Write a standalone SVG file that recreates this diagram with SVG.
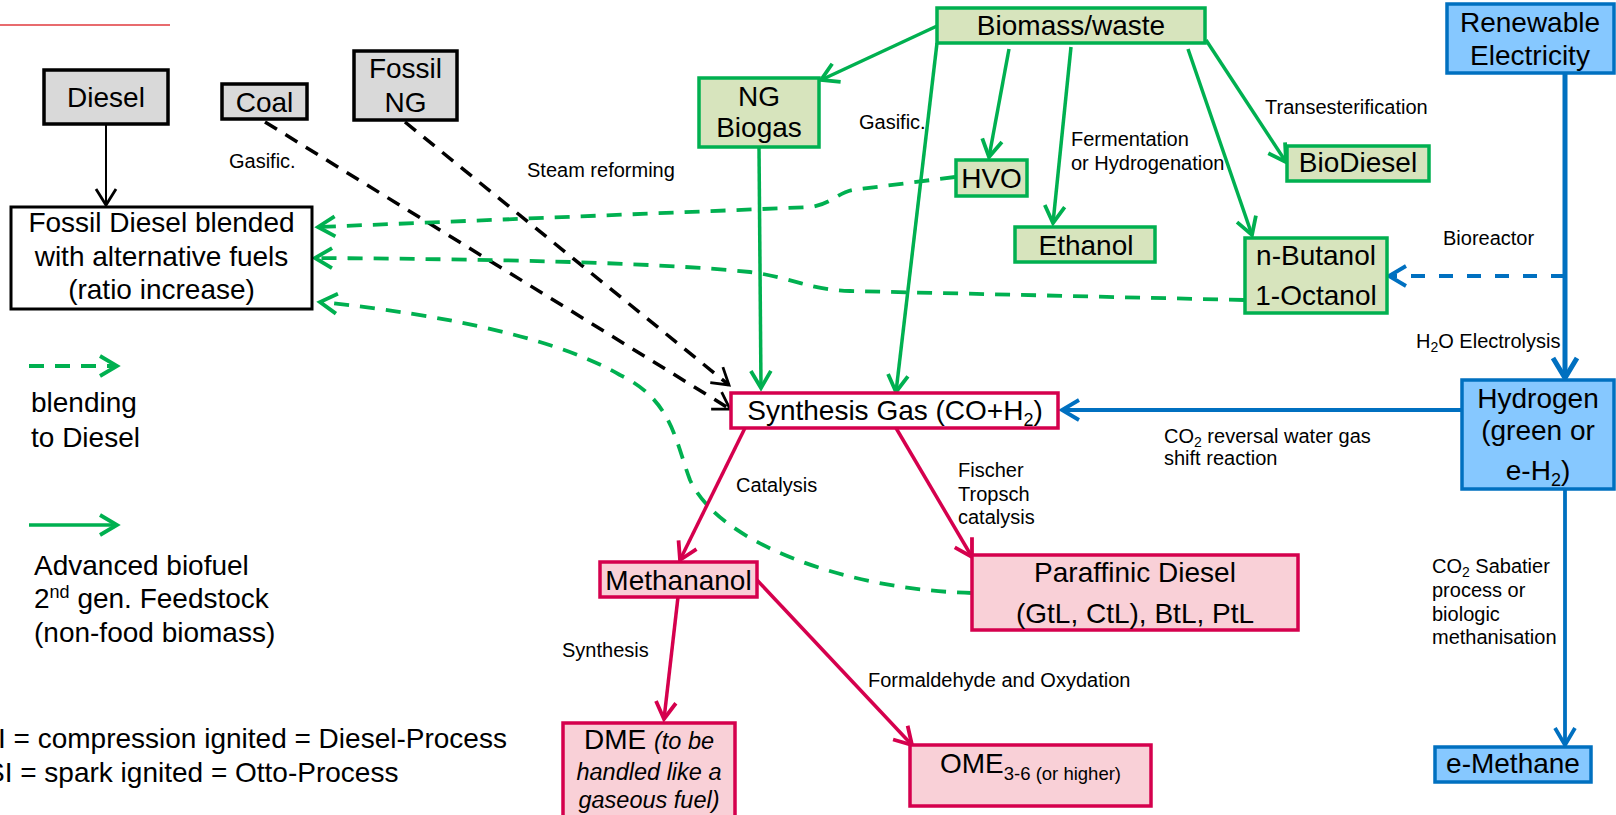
<svg xmlns="http://www.w3.org/2000/svg" width="1616" height="815" viewBox="0 0 1616 815">
<style>
text{font-family:"Liberation Sans",Arial,sans-serif;fill:#000}
.big{font-size:28px}
.lbl{font-size:20px}
.c{text-anchor:middle}
.grey{fill:#d9d9d9;stroke:#000;stroke-width:3.5}
.white{fill:#fff;stroke:#000;stroke-width:3}
.gbox{fill:#d7e4bd;stroke:#00b050;stroke-width:3.5}
.rbox{fill:#f9d0d7;stroke:#d5004d;stroke-width:3.5}
.rwbox{fill:#fff;stroke:#d5004d;stroke-width:3.5}
.bbox{fill:#86c8ff;stroke:#0070c0;stroke-width:3.5}
.k{stroke:#000;stroke-width:2;fill:none}
.kd{stroke:#000;stroke-width:3.5;fill:none;stroke-dasharray:14 10}
.g{stroke:#00b050;stroke-width:3.5;fill:none}
.gd{stroke:#00b050;stroke-width:3.8;fill:none;stroke-dasharray:15 11}
.r{stroke:#d5004d;stroke-width:3.5;fill:none}
.b{stroke:#0070c0;stroke-width:3.8;fill:none}
.bt{stroke:#0070c0;stroke-width:5;fill:none}
.bd{stroke:#0070c0;stroke-width:3.8;fill:none;stroke-dasharray:14 14}
</style>
<defs>
<marker id="ak" markerUnits="userSpaceOnUse" markerWidth="26" markerHeight="26" viewBox="-22 -13 26 26" refX="0" refY="0" orient="auto"><path d="M-16,-10 L0,0 L-16,10" fill="none" stroke="#000" stroke-width="2.8"/></marker>
<marker id="ag" markerUnits="userSpaceOnUse" markerWidth="26" markerHeight="26" viewBox="-22 -13 26 26" refX="0" refY="0" orient="auto"><path d="M-17,-10 L0,0 L-17,10" fill="none" stroke="#00b050" stroke-width="3.8"/></marker>
<marker id="ar" markerUnits="userSpaceOnUse" markerWidth="26" markerHeight="26" viewBox="-22 -13 26 26" refX="0" refY="0" orient="auto"><path d="M-17,-10 L0,0 L-17,10" fill="none" stroke="#d5004d" stroke-width="3.8"/></marker>
<marker id="ab" markerUnits="userSpaceOnUse" markerWidth="26" markerHeight="26" viewBox="-22 -13 26 26" refX="0" refY="0" orient="auto"><path d="M-17,-10 L0,0 L-17,10" fill="none" stroke="#0070c0" stroke-width="3.8"/></marker>
<marker id="abb" markerUnits="userSpaceOnUse" markerWidth="30" markerHeight="30" viewBox="-26 -15 30 30" refX="0" refY="0" orient="auto"><path d="M-20,-12 L0,0 L-20,12" fill="none" stroke="#0070c0" stroke-width="5"/></marker>
</defs>

<line x1="0" y1="25" x2="170" y2="25" stroke="#e03a3e" stroke-width="1.5"/>

<g id="connectors">
  <line class="k" x1="106" y1="124" x2="106" y2="205" marker-end="url(#ak)"/>
  <line class="kd" x1="265" y1="122" x2="730" y2="409" marker-end="url(#ak)"/>
  <line class="kd" x1="405" y1="122" x2="729" y2="385" marker-end="url(#ak)"/>

  <line class="g" x1="937" y1="26" x2="821" y2="80" marker-end="url(#ag)"/>
  <line class="g" x1="1009" y1="49" x2="989" y2="157" marker-end="url(#ag)"/>
  <line class="g" x1="1071" y1="47" x2="1053" y2="223" marker-end="url(#ag)"/>
  <line class="g" x1="1188" y1="49" x2="1252" y2="235" marker-end="url(#ag)"/>
  <line class="g" x1="1206" y1="40" x2="1286" y2="162" marker-end="url(#ag)"/>
  <line class="g" x1="759" y1="147" x2="761" y2="388" marker-end="url(#ag)"/>
  <line class="g" x1="937" y1="43" x2="896" y2="392" marker-end="url(#ag)"/>

  <path class="gd" d="M955,177 L852,190 C838,193 832,203 812,207 L318,227" marker-end="url(#ag)"/>
  <path class="gd" d="M1244,300 L850,291 C810,290 790,277 750,272 C650,262 480,259 315,258" marker-end="url(#ag)"/>
  <path class="gd" d="M972,593 C850,590 720,545 690,480 C675,440 672,400 620,375 C560,340 450,315 320,302" marker-end="url(#ag)"/>

  <line class="bt" x1="1565" y1="73" x2="1565" y2="378" marker-end="url(#abb)"/>
  <line class="bd" x1="1565" y1="276" x2="1389" y2="276" marker-end="url(#ab)"/>
  <line class="b" x1="1462" y1="410" x2="1062" y2="410" marker-end="url(#ab)"/>
  <line class="b" x1="1565" y1="489" x2="1565" y2="745" stroke-width="4.2" marker-end="url(#ab)"/>

  <line class="r" x1="745" y1="428" x2="680" y2="560" marker-end="url(#ar)"/>
  <line class="r" x1="896" y1="428" x2="972" y2="557" marker-end="url(#ar)"/>
  <line class="r" x1="678" y1="597" x2="664" y2="719" marker-end="url(#ar)"/>
  <line class="r" x1="757" y1="580" x2="912" y2="745" marker-end="url(#ar)"/>

  <line class="gd" x1="29" y1="366" x2="117" y2="366" marker-end="url(#ag)"/>
  <line class="g" x1="29" y1="525" x2="117" y2="525" marker-end="url(#ag)"/>
</g>

<g id="diesel"><rect class="grey" x="44" y="70" width="124" height="54"/><text class="big c" x="106" y="107">Diesel</text></g>
<g id="coal"><rect class="grey" x="222" y="84" width="85" height="35"/><text class="big c" x="264.5" y="112">Coal</text></g>
<g id="fossil-ng"><rect class="grey" x="354" y="51" width="103" height="69"/><text class="big c" x="405.5" y="78">Fossil</text><text class="big c" x="405.5" y="112">NG</text></g>
<g id="blended"><rect class="white" x="11" y="207" width="301" height="102"/>
<text class="big c" x="161.5" y="232">Fossil Diesel blended</text>
<text class="big c" x="161.5" y="266">with alternative fuels</text>
<text class="big c" x="161.5" y="299">(ratio increase)</text></g>

<g id="biomass"><rect class="gbox" x="937" y="8" width="268" height="35"/><text class="big c" x="1071" y="35">Biomass/waste</text></g>
<g id="ng-biogas"><rect class="gbox" x="699" y="78" width="120" height="69"/><text class="big c" x="759" y="106">NG</text><text class="big c" x="759" y="137">Biogas</text></g>
<g id="hvo"><rect class="gbox" x="956" y="160" width="71" height="36"/><text class="big c" x="991.5" y="188">HVO</text></g>
<g id="ethanol"><rect class="gbox" x="1015" y="227" width="140" height="35"/><text class="big c" x="1086" y="255">Ethanol</text></g>
<g id="biodiesel"><rect class="gbox" x="1287" y="146" width="142" height="35"/><text class="big c" x="1358" y="172">BioDiesel</text></g>
<g id="butanol"><rect class="gbox" x="1245" y="238" width="142" height="75"/><text class="big c" x="1316" y="265">n-Butanol</text><text class="big c" x="1316" y="305">1-Octanol</text></g>

<g id="renewable"><rect class="bbox" x="1447" y="4" width="167" height="69"/><text class="big c" x="1530" y="32">Renewable</text><text class="big c" x="1530" y="65">Electricity</text></g>
<g id="hydrogen"><rect class="bbox" x="1462" y="380" width="152" height="109"/>
<text class="big c" x="1538" y="408">Hydrogen</text>
<text class="big c" x="1538" y="440">(green or</text>
<text class="big c" x="1538" y="480">e-H<tspan font-size="18" dy="6">2</tspan><tspan dy="-6">)</tspan></text></g>
<g id="e-methane"><rect class="bbox" x="1435" y="747" width="156" height="35"/><text class="big c" x="1513" y="773">e-Methane</text></g>

<g id="synthesis-gas"><rect class="rwbox" x="731" y="393" width="327" height="35"/><text class="big c" x="895" y="420">Synthesis Gas (CO+H<tspan font-size="18" dy="6">2</tspan><tspan dy="-6">)</tspan></text></g>
<g id="methanol"><rect class="rbox" x="600" y="562" width="157" height="35"/><text class="big c" x="678.5" y="590">Methananol</text></g>
<g id="paraffinic"><rect class="rbox" x="972" y="555" width="326" height="75"/><text class="big c" x="1135" y="582">Paraffinic Diesel</text><text class="big c" x="1135" y="623">(GtL, CtL), BtL, PtL</text></g>
<g id="dme"><rect class="rbox" x="563" y="723" width="172" height="94"/>
<text class="c" x="649" y="749"><tspan class="big">DME </tspan><tspan font-size="23.5" font-style="italic">(to be</tspan></text>
<text class="c" x="649" y="780" font-size="23.5" font-style="italic">handled like a</text>
<text class="c" x="649" y="808" font-size="23.5" font-style="italic">gaseous fuel)</text></g>
<g id="ome"><rect class="rbox" x="910" y="745" width="241" height="61"/>
<text x="940" y="773"><tspan class="big">OME</tspan><tspan font-size="18.5" dy="7">3-6 (or higher)</tspan></text></g>

<g id="labels">
<text class="lbl" x="229" y="168">Gasific.</text>
<text class="lbl" x="527" y="177">Steam reforming</text>
<text class="lbl" x="859" y="129">Gasific.</text>
<text class="lbl" x="1071" y="146">Fermentation</text>
<text class="lbl" x="1071" y="170">or Hydrogenation</text>
<text class="lbl" x="1265" y="114">Transesterification</text>
<text class="lbl" x="1443" y="245">Bioreactor</text>
<text class="lbl" x="1416" y="348">H<tspan font-size="14" dy="4">2</tspan><tspan dy="-4">O Electrolysis</tspan></text>
<text class="lbl" x="1164" y="443">CO<tspan font-size="14" dy="4">2</tspan><tspan dy="-4"> reversal water gas</tspan></text>
<text class="lbl" x="1164" y="465">shift reaction</text>
<text class="lbl" x="736" y="492">Catalysis</text>
<text class="lbl" x="958" y="477">Fischer</text>
<text class="lbl" x="958" y="501">Tropsch</text>
<text class="lbl" x="958" y="524">catalysis</text>
<text class="lbl" x="562" y="657">Synthesis</text>
<text class="lbl" x="868" y="687">Formaldehyde and Oxydation</text>
<text class="lbl" x="1432" y="573">CO<tspan font-size="14" dy="4">2</tspan><tspan dy="-4"> Sabatier</tspan></text>
<text class="lbl" x="1432" y="597">process or</text>
<text class="lbl" x="1432" y="621">biologic</text>
<text class="lbl" x="1432" y="644">methanisation</text>
</g>

<g id="legend">
<text class="big" x="31" y="412">blending</text>
<text class="big" x="31" y="447">to Diesel</text>
<text class="big" x="34" y="575">Advanced biofuel</text>
<text class="big" x="34" y="608">2<tspan font-size="18" dy="-10">nd</tspan><tspan dy="10"> gen. Feedstock</tspan></text>
<text class="big" x="34" y="642">(non-food biomass)</text>
<text class="big" x="-2" y="748">I = compression ignited = Diesel-Process</text>
<text class="big" x="-14" y="782">SI = spark ignited = Otto-Process</text>
</g>
</svg>
